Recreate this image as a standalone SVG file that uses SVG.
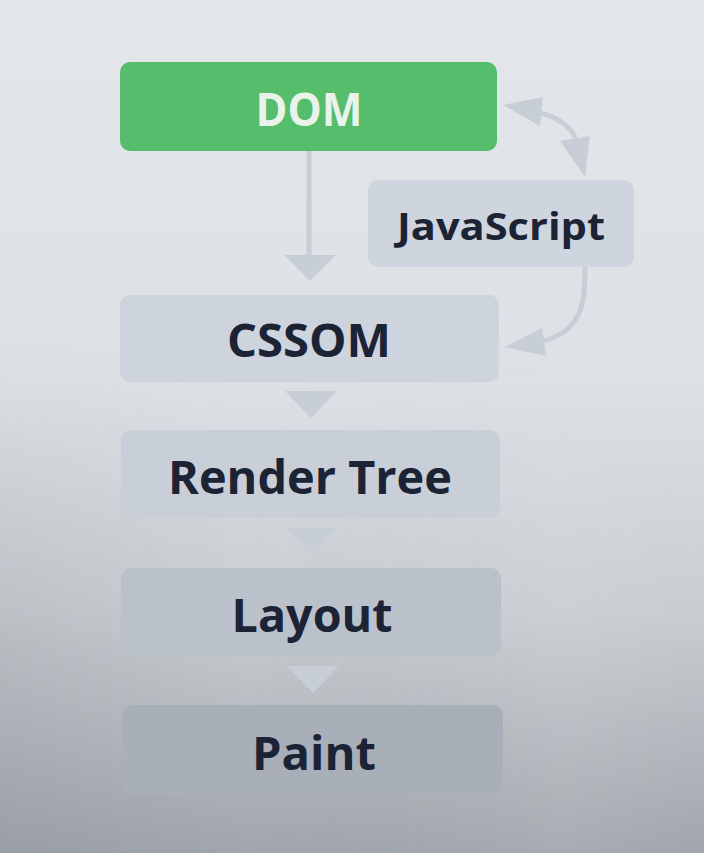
<svg xmlns="http://www.w3.org/2000/svg" width="704" height="853" viewBox="0 0 704 853">
  <defs>
    <linearGradient id="bg" x1="0" y1="0" x2="0" y2="1">
      <stop offset="0" stop-color="#e4e7ea"/>
      <stop offset="0.45" stop-color="#dde0e4"/>
      <stop offset="0.72" stop-color="#c9cdd2"/>
      <stop offset="1" stop-color="#a1a6ad"/>
    </linearGradient>
    <linearGradient id="side" x1="0" y1="0" x2="1" y2="0">
      <stop offset="0" stop-color="#6a7078" stop-opacity="0.14"/>
      <stop offset="0.35" stop-color="#6a7078" stop-opacity="0"/>
      <stop offset="0.8" stop-color="#ffffff" stop-opacity="0.07"/>
      <stop offset="1" stop-color="#ffffff" stop-opacity="0"/>
    </linearGradient>
    <linearGradient id="fade" x1="0" y1="0" x2="0" y2="1">
      <stop offset="0.4" stop-color="#ffffff" stop-opacity="0"/>
      <stop offset="0.75" stop-color="#ffffff" stop-opacity="1"/>
    </linearGradient>
    <mask id="m" maskUnits="userSpaceOnUse" x="0" y="0" width="704" height="853">
      <rect x="0" y="0" width="704" height="853" fill="url(#fade)"/>
    </mask>
    <style>
      .box { fill: #cdd4dd; }
      .lbl { font-family: "Open Sans", "Noto Sans", sans-serif; font-weight: 700; fill: #1b2335; text-anchor: middle; }
      .tri { fill: #c8ced8; }
      .ln { stroke: #c8ced8; stroke-width: 5; fill: none; stroke-linecap: butt; }
    </style>
  </defs>
  <rect x="0" y="0" width="704" height="853" fill="url(#bg)"/>
  <rect x="0" y="0" width="704" height="853" fill="url(#side)" mask="url(#m)"/>

  <g id="connectors">
    <line class="ln" x1="309" y1="151" x2="309" y2="258"/>
    <polygon class="tri" points="284,255 336,255 310,281"/>
    <polygon class="tri" points="285,391 337,391 311,418"/>
    <polygon class="tri" points="286,528 338,528 312,555"/>
    <polygon class="tri" points="287,666 339,666 313,693"/>
    <path class="ln" d="M536,112 C556,116 572,126 577,142"/>
    <polygon class="tri" points="503,105 543,97 540,126"/>
    <polygon class="tri" points="560,141 590,136 585,177"/>
    <path class="ln" d="M585,267 C585,300 584,332 540,342"/>
    <polygon class="tri" points="505,347 542,328 546,356"/>
  </g>

  <g id="dom">
    <rect x="120" y="62" width="377" height="89" rx="10" fill="#55bd6b"/>
    <text class="lbl" x="309" y="126" font-size="46" style="fill:#e9f3ea" textLength="107" lengthAdjust="spacingAndGlyphs">DOM</text>
  </g>
  <g id="javascript">
    <rect x="368" y="180" width="266" height="87" rx="10" style="fill:#cfd5de"/>
    <text class="lbl" x="501" y="240" font-size="37" textLength="208" lengthAdjust="spacingAndGlyphs">JavaScript</text>
  </g>
  <g id="cssom">
    <rect x="120" y="295" width="379" height="87" rx="10" class="box"/>
    <text class="lbl" x="309" y="357" font-size="46" textLength="164" lengthAdjust="spacingAndGlyphs">CSSOM</text>
  </g>
  <g id="render-tree">
    <rect x="121" y="430" width="379" height="88" rx="10" style="fill:#c8cfd8"/>
    <text class="lbl" x="310" y="494" font-size="46" textLength="284" lengthAdjust="spacingAndGlyphs">Render Tree</text>
  </g>
  <g id="layout">
    <rect x="121" y="568" width="380" height="88" rx="10" style="fill:#bbc1ca"/>
    <text class="lbl" x="312" y="632" font-size="46" textLength="161" lengthAdjust="spacingAndGlyphs">Layout</text>
  </g>
  <g id="paint">
    <rect x="122" y="705" width="381" height="89" rx="10" style="fill:#a9afb9"/>
    <text class="lbl" x="314" y="770" font-size="46" textLength="124" lengthAdjust="spacingAndGlyphs">Paint</text>
  </g>
</svg>
